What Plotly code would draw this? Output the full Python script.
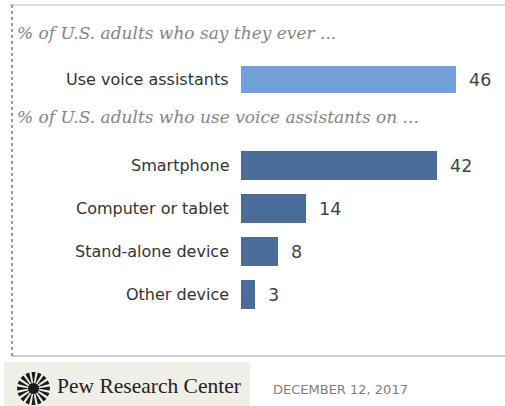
import math
import plotly.graph_objects as go

W, H = 505, 406

# ---- data ----
header1 = "% of U.S. adults who say they ever ..."
header2 = "% of U.S. adults who use voice assistants on ..."
group1_labels = ["Use voice assistants"]
group1_values = [46]
group2_labels = ["Smartphone", "Computer or tablet", "Stand-alone device", "Other device"]
group2_values = [42, 14, 8, 3]
source_text = "Pew Research Center"
date_text = "DECEMBER 12, 2017"

COL1 = "#72A0DA"
COL2 = "#4A6C99"

# slot positions: group 1 at 0, a header slot, then group 2
pos1 = list(range(len(group1_labels)))
pos2 = [len(group1_labels) + 1 + i for i in range(len(group2_labels))]


def px(x):
    return x / W


def py(y):
    return 1 - y / H


# pixel mapping of the axes
x0_pix = 241.0
scale = 4.67  # px per unit
y_slot0 = 79.5
slot_h = 43.0

fig = go.Figure()
fig.add_trace(go.Bar(x=group1_values, y=pos1, orientation="h", marker=dict(color=COL1, line=dict(width=0)),
                     width=0.64, hoverinfo="skip"))
fig.add_trace(go.Bar(x=group2_values, y=pos2, orientation="h", marker=dict(color=COL2, line=dict(width=0)),
                     width=0.66, hoverinfo="skip"))

xmax = (W - x0_pix) / scale
fig.update_xaxes(domain=[px(x0_pix), 1], range=[0, xmax], visible=False, fixedrange=True)
ytop = -y_slot0 / slot_h
ybot = (H - y_slot0) / slot_h
fig.update_yaxes(domain=[0, 1], range=[ybot, ytop], visible=False, fixedrange=True)

ann = []
label_font = dict(family="DejaVu Sans, Verdana, sans-serif", size=16, color="#333333")
value_font = dict(family="DejaVu Sans, Verdana, sans-serif", size=17.5, color="#444444")
for labels, values, pos in [(group1_labels, group1_values, pos1), (group2_labels, group2_values, pos2)]:
    for lab, v, p in zip(labels, values, pos):
        ann.append(dict(text=lab, xref="paper", x=px(231), yref="y", y=p, xanchor="right", yanchor="middle",
                        showarrow=False, font=label_font))
        ann.append(dict(text=str(v), xref="x", x=v, yref="y", y=p, xanchor="left", yanchor="middle",
                        xshift=11, showarrow=False, font=value_font))

head_font = dict(family="DejaVu Serif, serif", size=17, color="#858585")
ann.append(dict(text="<i>" + header1 + "</i>", xref="paper", x=px(15), yref="paper", y=py(33),
                xanchor="left", yanchor="middle", showarrow=False, font=head_font))
ann.append(dict(text="<i>" + header2 + "</i>", xref="paper", x=px(15), yref="paper", y=py(117),
                xanchor="left", yanchor="middle", showarrow=False, font=head_font))

ann.append(dict(text=source_text, xref="paper", x=px(55), yref="paper", y=py(386),
                xanchor="left", yanchor="middle", showarrow=False,
                font=dict(family="Liberation Serif, serif", size=21.5, color="#222222")))
ann.append(dict(text=date_text, xref="paper", x=px(271), yref="paper", y=py(389),
                xanchor="left", yanchor="middle", showarrow=False,
                font=dict(family="DejaVu Sans, Verdana, sans-serif", size=13, color="#808080")))

shapes = []
# frame lines
shapes.append(dict(type="line", xref="paper", yref="paper", x0=px(10), x1=px(505), y0=py(5), y1=py(5),
                   line=dict(color="#dddddd", width=2)))
shapes.append(dict(type="line", xref="paper", yref="paper", x0=px(12), x1=px(505), y0=py(356), y1=py(356),
                   line=dict(color="#cccccc", width=2)))
shapes.append(dict(type="line", xref="paper", yref="paper", x0=px(12), x1=px(12), y0=py(5), y1=py(357),
                   line=dict(color="#555555", width=1.2, dash="dot")))
# footer box
shapes.append(dict(type="rect", xref="paper", yref="paper", x0=px(4), x1=px(250), y0=py(362), y1=py(406),
                   fillcolor="#efefe8", line=dict(width=0), layer="below"))

# logo sunburst
cx, cy = 33.5, 388.5
R, r_in = 16.5, 3.5
n = 16
for k in range(n):
    a = 2 * math.pi * k / n
    da = math.pi / n * 0.62
    pts = [(cx + r_in * math.cos(a), cy + r_in * math.sin(a)),
           (cx + R * math.cos(a - da), cy + R * math.sin(a - da)),
           (cx + R * math.cos(a + da), cy + R * math.sin(a + da))]
    path = "M {} {} L {} {} L {} {} Z".format(*[v for p_ in pts for v in (px(p_[0]), py(p_[1]))])
    shapes.append(dict(type="path", xref="paper", yref="paper", path=path, fillcolor="#1a1a1a",
                       line=dict(width=0)))
shapes.append(dict(type="circle", xref="paper", yref="paper", x0=px(cx - 5.5), x1=px(cx + 5.5),
                   y0=py(cy + 5.5), y1=py(cy - 5.5), fillcolor="#1a1a1a", line=dict(width=0)))

fig.update_layout(width=W, height=H, margin=dict(l=0, r=0, t=0, b=0), showlegend=False,
                  paper_bgcolor="white", plot_bgcolor="rgba(0,0,0,0)", bargap=0,
                  annotations=ann, shapes=shapes)

fig.write_html("out.html", config={"displayModeBar": False},
               post_script="document.body.style.margin='0px';document.body.style.overflow='hidden';")
